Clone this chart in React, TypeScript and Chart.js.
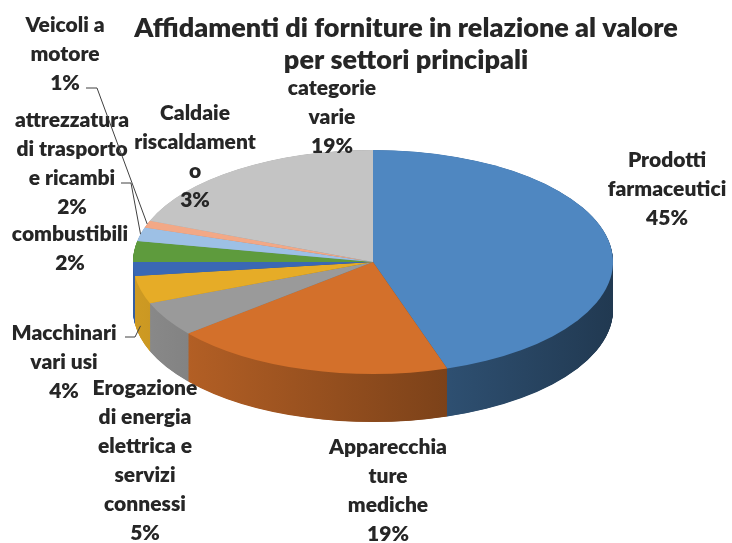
import React, { useEffect, useRef } from 'react';
import { Chart, registerables } from 'chart.js';

Chart.register(...registerables);

// ---- data ----
const categories = [
  'Prodotti farmaceutici',
  'Apparecchiature mediche',
  'Erogazione di energia elettrica e servizi connessi',
  'Macchinari vari usi',
  'combustibili',
  'Caldaie riscaldamento',
  'attrezzatura di trasporto e ricambi',
  'Veicoli a motore',
  'categorie varie',
];
const values = [45, 19, 5, 4, 2, 3, 2, 1, 19];
const labelLines = [
  ['Prodotti', 'farmaceutici'],
  ['Apparecchia', 'ture', 'mediche'],
  ['Erogazione', 'di energia', 'elettrica e', 'servizi', 'connessi'],
  ['Macchinari', 'vari usi'],
  ['combustibili'],
  ['Caldaie', 'riscaldament', 'o'],
  ['attrezzatura', 'di trasporto', 'e ricambi'],
  ['Veicoli a', 'motore'],
  ['categorie', 'varie'],
];
const titleLines = ['Affidamenti di forniture in relazione al valore', 'per settori principali'];

// ---- styles / layout ----
const colors = ['#4F87C1', '#D3702B', '#9A9A9A', '#E6AC27', '#3A68B4', '#5E9B3D', '#9DC0E5', '#F2A886', '#C4C4C4'];
const labelPos = [
  [667, 160],
  [388, 447],
  [145, 388],
  [64, 333],
  [70, 234],
  [195, 113],
  [72, 120],
  [65, 25],
  [332, 88],
];
// leader lines: [labelIndex, startX, startY, elbowX, dropBelowRim]
const leaders = [
  [7, 86, 88, 97, 0],
  [6, 121, 183, 131, 0],
  [3, 125, 337, 135, 36],
];
const K = 112 / 240; // vertical squash of the pie
const DEPTH = 48;
const TEXT = '#262626';
const LABEL_FONT = '800 21px Lato';
const TITLE_FONT = '800 27px Lato';
const LINE_H = 29;

function shade(hex: string, f: number) {
  const n = parseInt(hex.slice(1), 16);
  const r = Math.round(((n >> 16) & 255) * f);
  const g = Math.round(((n >> 8) & 255) * f);
  const b = Math.round((n & 255) * f);
  return `rgb(${r},${g},${b})`;
}

const pie3d = {
  id: 'pie3d',
  beforeDatasetsDraw(chart: any) {
    const meta = chart.getDatasetMeta(0);
    const ctx = chart.ctx as CanvasRenderingContext2D;
    const first = meta.data[0];
    const cx = first.x, cy = first.y, R = first.outerRadius;
    ctx.save();
    ctx.translate(cx, cy);
    ctx.scale(1, K);
    ctx.translate(-cx, -cy);
    const sideOpts = meta.data.map((el: any, i: number) => {
      const g = ctx.createLinearGradient(cx - R, 0, cx + R, 0);
      g.addColorStop(0, shade(colors[i], 0.9));
      g.addColorStop(1, shade(colors[i], 0.42));
      return Object.assign({}, el.options, { backgroundColor: g, borderWidth: 0 });
    });
    const dScaled = DEPTH / K;
    for (let d = dScaled; d > 0; d -= 0.8) {
      ctx.save();
      ctx.translate(0, d);
      meta.data.forEach((el: any, i: number) => {
        const o = el.options;
        el.options = sideOpts[i];
        el.draw(ctx);
        el.options = o;
      });
      ctx.restore();
    }
  },
  afterDatasetsDraw(chart: any) {
    chart.ctx.restore();
  },
};

const labelsPlugin = {
  id: 'labels3d',
  afterDraw(chart: any) {
    const ctx = chart.ctx as CanvasRenderingContext2D;
    const meta = chart.getDatasetMeta(0);
    const total = values.reduce((a, b) => a + b, 0);
    ctx.save();
    ctx.fillStyle = TEXT;
    ctx.textAlign = 'center';
    ctx.textBaseline = 'middle';
    // title
    ctx.font = TITLE_FONT;
    titleLines.forEach((t, i) => ctx.fillText(t, 406, 28 + i * 32));
    // labels
    ctx.font = LABEL_FONT;
    values.forEach((v, i) => {
      const lines = [...labelLines[i], Math.round((v / total) * 100) + '%'];
      const [x, y] = labelPos[i];
      lines.forEach((t, j) => ctx.fillText(t, x, y + j * LINE_H));
    });
    // leader lines
    ctx.strokeStyle = '#404040';
    ctx.lineWidth = 1;
    leaders.forEach(([idx, sx, sy, ex, drop]) => {
      const el = meta.data[idx];
      const mid = (el.startAngle + el.endAngle) / 2;
      const px = el.x + Math.cos(mid) * el.outerRadius;
      const py = el.y + Math.sin(mid) * el.outerRadius * K + drop;
      ctx.beginPath();
      ctx.moveTo(sx, sy);
      ctx.lineTo(ex, sy);
      ctx.lineTo(px, py);
      ctx.stroke();
    });
    ctx.restore();
  },
};

export default function App() {
  const ref = useRef<HTMLCanvasElement>(null);
  useEffect(() => {
    document.body.style.margin = '0';
    const chart = new Chart(ref.current as HTMLCanvasElement, {
      type: 'pie',
      data: {
        labels: categories,
        datasets: [
          {
            data: values,
            backgroundColor: colors,
            borderWidth: 0,
            clip: false as any,
          },
        ],
      },
      options: {
        responsive: false,
        maintainAspectRatio: false,
        animation: false,
        events: [],
        layout: { padding: { left: 133, right: 119, top: 22, bottom: 41 } },
        plugins: {
          legend: { display: false },
          title: { display: false },
          tooltip: { enabled: false },
        },
      },
      plugins: [pie3d, labelsPlugin],
    });
    return () => chart.destroy();
  }, []);
  return <canvas ref={ref} width={732} height={543} style={{ display: 'block' }} />;
}
